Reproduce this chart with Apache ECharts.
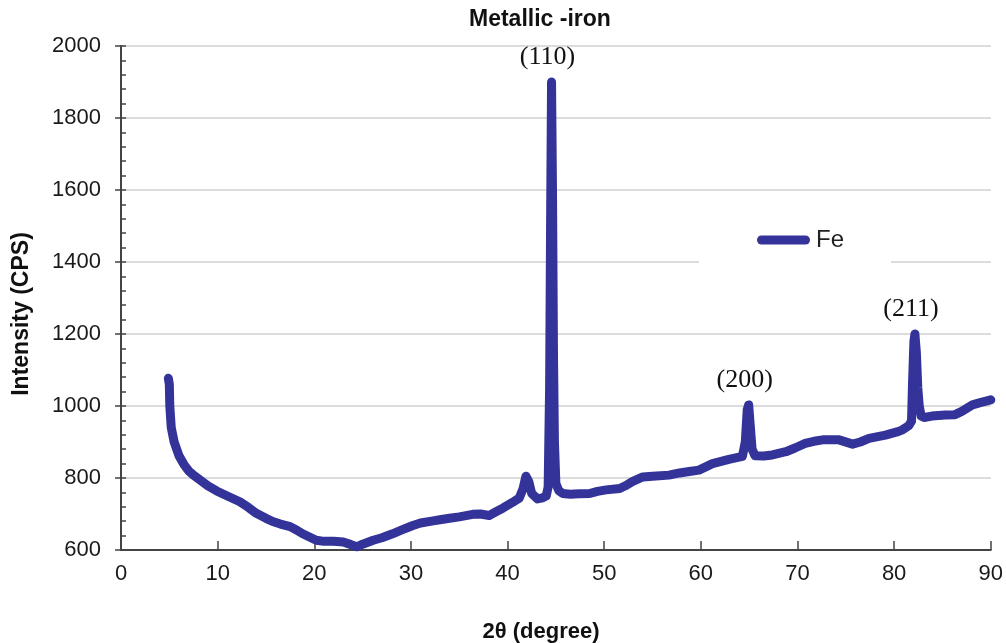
<!DOCTYPE html>
<html>
<head>
<meta charset="utf-8">
<script src="https://cdn.jsdelivr.net/npm/echarts@6/dist/echarts.min.js"></script>
<style>
html,body{margin:0;padding:0;background:#fff;}
#chart{width:1006px;height:643px;}
</style>
</head>
<body>
<div id="chart"></div>
<script>
// ---- data ----
const seriesName = 'Fe';
const twoTheta = [
  4.9, 5.0, 5.05, 5.2, 5.5, 6.0, 6.5, 7.0, 7.5, 8.2, 9.0, 9.9, 11.0, 12.3, 13.2, 14.0, 15.0, 15.7, 16.5, 17.5,
  18.2, 18.8, 19.5, 20.2, 21.0, 22.0, 23.0, 23.8, 24.4, 25.0, 26.1, 27.0, 28.1, 29.0, 30.2, 31.0, 32.3, 33.0, 34.0, 35.0,
  36.4, 37.2, 38.1, 38.8, 39.5, 40.5, 41.2, 41.6, 41.9, 42.2, 42.5, 43.1, 43.6, 44.0, 44.2, 44.35, 44.45, 44.55, 44.65, 44.75,
  44.85, 45.0, 45.3, 45.7, 46.5, 47.4, 48.5, 49.3, 50.2, 51.6, 52.3, 52.9, 54.0, 55.0, 56.7, 57.8, 58.8, 59.8, 61.2, 62.9,
  64.3, 64.6, 64.8, 64.95, 65.1, 65.3, 65.6, 66.5, 67.4, 68.8, 69.8, 70.8, 71.7, 72.6, 74.3, 75.7, 76.5, 77.4, 79.1, 80.3,
  80.8, 81.5, 81.8, 81.9, 82.05, 82.15, 82.3, 82.45, 82.6, 82.8, 83.1, 83.9, 85.3, 86.3, 87.0, 88.1, 89.0, 90.0
];
const intensity = [
  1077, 1060, 1000, 940, 900, 862, 838, 820, 808, 794, 778, 764, 750, 734, 718, 702, 688, 679, 672, 665,
  655, 645, 636, 627, 624, 624, 622, 615, 609, 616, 627, 634, 645, 655, 668, 675, 681, 684, 688, 692,
  699, 700, 696, 706, 716, 732, 744, 770, 805, 790, 757, 742, 745, 750, 775, 1050, 1500, 1900, 1600, 1150,
  900, 785, 765, 757, 755, 756, 757, 763, 767, 771, 780, 790, 803, 805, 808, 814, 818, 822, 840, 852,
  860, 900, 990, 1003, 950, 880, 862, 861, 864, 873, 884, 896, 902, 906, 906, 894, 900, 910, 919, 928,
  933, 945, 958, 1060, 1180, 1200, 1150, 1050, 1000, 972, 968, 972, 975, 976, 985, 1003, 1010, 1017
];
const peakNames = ['(110)', '(200)', '(211)'];
const peakTheta = [44.55, 64.95, 82.15];
const peakIntensity = [1900, 1003, 1200];

const xTicks = { min: 0, max: 90, interval: 10 };
const yTicks = { min: 600, max: 2000, interval: 200 };

// ---- chart ----
const lineColor = '#333399';
const sans = '"Liberation Sans", Arial, sans-serif';
const chart = echarts.init(document.getElementById('chart'), null, { renderer: 'canvas' });

const pts = twoTheta.map((t, i) => [t, intensity[i]]);
const peaks = peakNames.map((n, i) => ({ name: n, coord: [peakTheta[i], peakIntensity[i]] }));

chart.setOption({
  animation: false,
  backgroundColor: '#ffffff',
  title: {
    text: 'Metallic -iron',
    left: 469, top: 8, padding: 0,
    textStyle: { fontFamily: sans, fontWeight: 'bold', fontSize: 23, color: '#111' }
  },
  grid: { left: 121, right: 14, top: 46, bottom: 93, containLabel: false },
  legend: {
    data: [seriesName],
    left: 699, top: 208, orient: 'horizontal',
    backgroundColor: '#ffffff',
    padding: [20, 47, 16, 58],
    itemWidth: 53, itemHeight: 9, itemGap: 5,
    icon: 'path://M4.5,0H48.5A4.5,4.5 0 0 1 48.5,9H4.5A4.5,4.5 0 0 1 4.5,0Z',
    textStyle: { fontFamily: sans, fontSize: 24, color: '#222', padding: [0, 0, 0, 1] }
  },
  xAxis: {
    type: 'value', min: xTicks.min, max: xTicks.max, interval: xTicks.interval,
    axisLine: { show: true, onZero: false, lineStyle: { color: '#444', width: 2 } },
    axisTick: { show: true, inside: true, length: 9, lineStyle: { color: '#444', width: 1.5 } },
    axisLabel: { margin: 13, fontFamily: sans, fontSize: 22, color: '#1a1a1a', formatter: v => String(v) },
    splitLine: { show: false }
  },
  yAxis: [{
    type: 'value', min: yTicks.min, max: yTicks.max, interval: yTicks.interval,
    axisLine: { show: true, onZero: false, lineStyle: { color: '#444', width: 2 } },
    axisTick: { show: true, inside: true, length: 5, lineStyle: { color: '#444', width: 1.5 } },
    minorTick: { show: true, splitNumber: 5, length: 5, lineStyle: { color: '#444', width: 1.5 } },
    axisLabel: { margin: 20, fontFamily: sans, fontSize: 22, color: '#1a1a1a', formatter: v => String(v) },
    splitLine: { show: true, lineStyle: { color: '#d0d0d0', width: 1.5 } }
  }, {
    type: 'value', position: 'left', min: yTicks.min, max: yTicks.max, interval: yTicks.interval,
    axisLine: { show: false },
    axisTick: { show: true, inside: false, length: 6, lineStyle: { color: '#444', width: 1.5 } },
    axisLabel: { show: false },
    splitLine: { show: false }
  }],
  graphic: [
    { type: 'text', x: 22, y: 314, rotation: Math.PI / 2,
      style: { text: 'Intensity (CPS)', font: 'bold 23px ' + sans, fill: '#111', textAlign: 'center', textVerticalAlign: 'middle' } },
    { type: 'text', x: 541, y: 632,
      style: { text: '2\u03B8 (degree)', font: 'bold 22px ' + sans, fill: '#111', textAlign: 'center', textVerticalAlign: 'middle' } }
  ],
  series: [{
    name: seriesName,
    type: 'line',
    data: pts,
    showSymbol: false,
    symbol: 'none',
    smooth: false,
    lineStyle: { color: lineColor, width: 9, cap: 'round', join: 'round' },
    itemStyle: { color: lineColor },
    z: 3,
    markPoint: {
      symbol: 'circle', symbolSize: 0, silent: true,
      label: {
        show: true, formatter: '{b}', position: 'inside', offset: [-4, -25],
        fontFamily: '"Liberation Serif", "Times New Roman", serif', fontSize: 26, color: '#111'
      },
      data: peaks
    }
  }]
});
</script>
</body>
</html>
